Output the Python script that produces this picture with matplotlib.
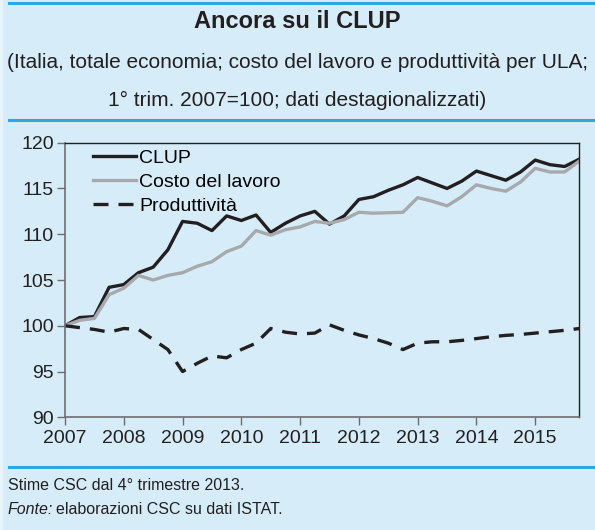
import numpy as np
import matplotlib
import matplotlib.pyplot as plt
from matplotlib.lines import Line2D
from matplotlib.patches import Rectangle

matplotlib.rcParams["font.family"] = ["Liberation Sans", "DejaVu Sans"]

# quarterly data, 1° trim. 2007 = 100
start_year = 2007
clup = [100.0, 100.9, 101.0, 104.2, 104.5, 105.8, 106.4, 108.3, 111.4, 111.2,
        110.4, 112.0, 111.5, 112.1, 110.2, 111.2, 112.0, 112.5, 111.1, 112.0,
        113.8, 114.1, 114.8, 115.4, 116.2, 115.6, 115.0, 115.8, 116.9, 116.4,
        115.9, 116.8, 118.1, 117.6, 117.4, 118.2]
costo = [100.0, 100.6, 100.8, 103.4, 104.1, 105.5, 105.0, 105.5, 105.8, 106.5,
         107.0, 108.1, 108.7, 110.4, 109.9, 110.5, 110.8, 111.4, 111.2, 111.6,
         112.4, 112.3, 112.35, 112.4, 114.0, 113.6, 113.1, 114.1, 115.4, 115.0,
         114.7, 115.7, 117.2, 116.8, 116.8, 118.0]
produttivita = [100.0, 99.8, 99.6, 99.3, 99.7, 99.6, 98.5, 97.4, 95.0, 95.9,
                96.7, 96.5, 97.4, 98.1, 99.7, 99.3, 99.1, 99.2, 100.1, 99.5,
                99.0, 98.6, 98.1, 97.4, 98.1, 98.25, 98.25, 98.4, 98.6, 98.8,
                98.95, 99.05, 99.2, 99.35, 99.5, 99.7]
years = list(range(2007, 2016))
yticks = [90, 95, 100, 105, 110, 115, 120]

title = "Ancora su il CLUP"
subtitle = ["(Italia, totale economia; costo del lavoro e produttività per ULA;",
            "1° trim. 2007=100; dati destagionalizzati)"]
note = "Stime CSC dal 4° trimestre 2013."

bg = "#d6edf9"
rule = "#2aa8e0"
narrow = ["Liberation Sans Narrow", "Liberation Sans", "DejaVu Sans"]

W, H = 595, 530
fig = plt.figure(figsize=(W / 100, H / 100), dpi=100, facecolor=bg)
fig.add_artist(Rectangle((0, 0), 3 / W, 1, transform=fig.transFigure,
                         color="#e6f4fb", lw=0))

x = start_year + np.arange(len(clup)) / 4.0

ax = fig.add_axes([65 / W, 1 - 417.3 / H, (579.3 - 65) / W, (417.3 - 142.7) / H])
ax.set_facecolor(bg)
ax.plot(x, clup, color="#231f20", lw=2.4, label="CLUP")
ax.plot(x, costo, color="#a7a9ac", lw=2.4, label="Costo del lavoro")
ax.plot(x, produttivita, color="#231f20", lw=2.4, dashes=(4.5, 3),
        label="Produttività")

ax.set_xlim(2007, 2015.75)
ax.set_ylim(90, 120)
ax.set_xticks(years)
ax.set_yticks(yticks)
ax.tick_params(labelsize=14, length=6, width=1, color="#6d6e71", pad=2,
               labelcolor="#231f20")
ax.tick_params(axis="x", pad=3)
for s in ["left", "bottom"]:
    ax.spines[s].set_color("#6d6e71")
    ax.spines[s].set_linewidth(1.2)
for s in ["top", "right"]:
    ax.spines[s].set_color("#231f20")
    ax.spines[s].set_linewidth(1.0)

leg = ax.legend(loc="upper left", frameon=False, fontsize=14, handlelength=2.2,
                handletextpad=0.2, labelspacing=0.33, borderpad=0.0,
                borderaxespad=0.0, bbox_to_anchor=(0.054, 0.977))

# header and footer
fig.text(0.5, 1 - 22 / H, title, ha="center", va="center", fontsize=17,
         fontweight="bold", family=narrow, color="#231f20")
fig.text(0.5, 1 - 62 / H, subtitle[0], ha="center", va="center", fontsize=15,
         family=narrow, color="#231f20")
fig.text(0.5, 1 - 100 / H, subtitle[1], ha="center", va="center", fontsize=15,
         family=narrow, color="#231f20")
fig.text(8 / W, 1 - 485 / H, note, ha="left", va="center", fontsize=11.5,
         family=narrow, color="#231f20")
t1 = fig.text(8 / W, 1 - 510 / H, "Fonte:", ha="left", va="center", fontsize=11.5,
              family=narrow, style="italic", color="#231f20")
fig.canvas.draw()
bb = t1.get_window_extent()
fig.text((bb.x1 + 3) / W, 1 - 510 / H, "elaborazioni CSC su dati ISTAT.",
         ha="left", va="center", fontsize=11.5, family=narrow, color="#231f20")

for yy in [3, 120, 467]:
    fig.add_artist(Line2D([9 / W, 1], [1 - yy / H] * 2, color=rule, lw=2.2))

fig.savefig("out.png", dpi=100, facecolor=bg)
